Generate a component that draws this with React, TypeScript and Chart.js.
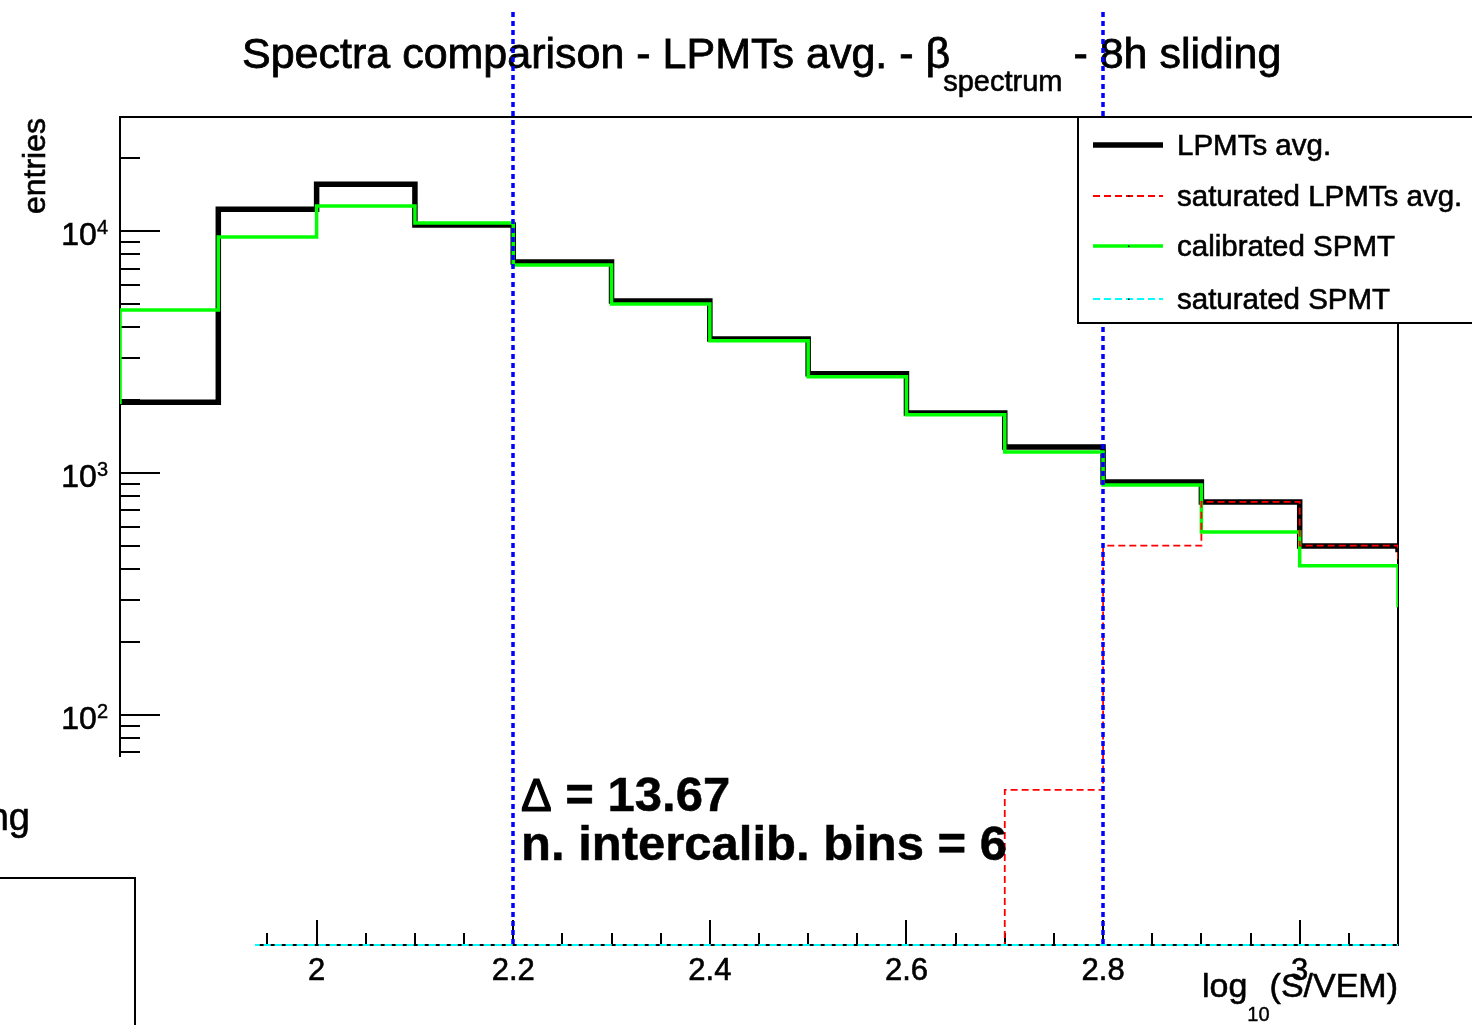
import React, { useEffect, useRef } from 'react';
import { Chart, registerables } from 'chart.js';

Chart.register(...registerables);

const W = 1472;
const H = 1025;
const FONT = '"Liberation Sans", Arial, Helvetica, sans-serif';

// Histogram bins (lower edges, width 0.1). First and last entries are the
// neighbouring bins just outside the drawn x-range.
const binLowEdges = [1.7, 1.8, 1.9, 2.0, 2.1, 2.2, 2.3, 2.4, 2.5, 2.6, 2.7, 2.8, 2.9, 3.0, 3.1];
const binWidth = 0.1;

const lpmtsAvg = [1960, 1960, 12300, 15600, 10600, 7440, 5140, 3580, 2570, 1770, 1280, 918, 759, 499, 470];
const saturatedLpmtsAvg = [0, 0, 0, 0, 0, 0, 0, 0, 0, 0, 49, 501, 760, 501, 436];
const calibratedSpmt = [1960, 4720, 9440, 12700, 10800, 7240, 4990, 3520, 2500, 1740, 1220, 891, 570, 414, 279];
const saturatedSpmt = [0, 0, 0, 0, 0, 0, 0, 0, 0, 0, 0, 0, 0, 0, 0];

const seriesLabels = ['LPMTs avg.', 'saturated LPMTs avg.', 'calibrated SPMT', 'saturated SPMT'];

const xRange = [1.8, 3.1];
const yRange = [11.2, 29600];
const xMajorTicks = [2, 2.2, 2.4, 2.6, 2.8, 3];
const xTickLabels = ['2', '2.2', '2.4', '2.6', '2.8', '3'];
const xMinorStep = 0.05;
const yMajorTicks = [100, 1000, 10000];
const yTickExponents = ['2', '3', '4'];
const yDecades = [10, 100, 1000, 10000];

const intercalibEdges = [2.2, 2.8];
const deltaValue = '13.67';
const nIntercalibBins = 6;

const titleMain = 'Spectra comparison - LPMTs avg. - \u03B2';
const titleSub = 'spectrum';
const titleTail = ' - 8h sliding';

function toPoints(vals: number[]) {
  const pts = vals.map((v, i) => ({ x: binLowEdges[i], y: Math.max(v, yRange[0]) }));
  const last = vals.length - 1;
  pts.push({ x: binLowEdges[last] + binWidth, y: Math.max(vals[last], yRange[0]) });
  return pts;
}

// filled text with a faint outline, imitating the heavier ROOT rendering
function txt(ctx: CanvasRenderingContext2D, s: string, x: number, y: number, sw = 0.6) {
  ctx.fillText(s, x, y);
  if (sw > 0) {
    ctx.save();
    ctx.strokeStyle = ctx.fillStyle as string;
    ctx.lineWidth = sw;
    ctx.setLineDash([]);
    ctx.strokeText(s, x, y);
    ctx.restore();
  }
}

const rootPlugin = {
  id: 'rootStyle',
  beforeDraw(chart: any) {
    const ctx = chart.ctx;
    ctx.save();
    ctx.fillStyle = '#fff';
    ctx.fillRect(0, 0, chart.width, chart.height);
    ctx.restore();
  },
  beforeDatasetsDraw(chart: any) {
    const ctx = chart.ctx as CanvasRenderingContext2D;
    const a = chart.chartArea;
    const xs = chart.scales.x;
    const ys = chart.scales.y;
    ctx.save();

    // title
    ctx.fillStyle = '#000';
    ctx.textBaseline = 'alphabetic';
    ctx.textAlign = 'left';
    ctx.font = `43px ${FONT}`;
    const w1 = ctx.measureText(titleMain).width;
    ctx.font = `29px ${FONT}`;
    const w2 = ctx.measureText(titleSub).width;
    const tx = 242;
    const subX = tx + w1 - 7;
    ctx.font = `43px ${FONT}`;
    txt(ctx, titleMain, tx, 68, 0.8);
    txt(ctx, titleTail, subX + w2 - 1, 68, 0.8);
    ctx.font = `29px ${FONT}`;
    txt(ctx, titleSub, subX, 91, 0.6);

    // frame
    ctx.strokeStyle = '#000';
    ctx.lineWidth = 2;
    ctx.strokeRect(a.left, a.top, a.right - a.left, a.bottom - a.top);

    // x ticks (pointing up, inside the frame)
    ctx.lineWidth = 2;
    const nMinor = Math.round((xRange[1] - xRange[0]) / xMinorStep);
    for (let k = 0; k <= nMinor; k++) {
      const v = xRange[0] + k * xMinorStep;
      const px = Math.round(xs.getPixelForValue(v));
      const major = xMajorTicks.some((m) => Math.abs(m - v) < 1e-6) || Math.abs(v - 1.8) < 1e-6;
      const len = major ? 25 : 12;
      ctx.beginPath();
      ctx.moveTo(px, a.bottom);
      ctx.lineTo(px, a.bottom - len);
      ctx.stroke();
    }
    // x labels
    ctx.font = `31px ${FONT}`;
    ctx.textAlign = 'center';
    xMajorTicks.forEach((v, i) => {
      txt(ctx, xTickLabels[i], xs.getPixelForValue(v), 980);
    });
    // x title
    ctx.textAlign = 'left';
    ctx.font = `34px ${FONT}`;
    const tA = 'log';
    const tC = '(S/VEM)';
    const wA = ctx.measureText(tA).width;
    const wC = ctx.measureText(tC).width;
    ctx.font = `20px ${FONT}`;
    const wB = ctx.measureText('10').width;
    const xt0 = a.right - (wA + wB + wC);
    ctx.font = `34px ${FONT}`;
    txt(ctx, tA, xt0, 997);
    txt(ctx, tC, xt0 + wA + wB, 997);
    ctx.font = `20px ${FONT}`;
    txt(ctx, '10', xt0 + wA, 1021, 0.4);

    // y ticks (pointing right, inside the frame)
    yDecades.forEach((d) => {
      for (let m = 1; m <= 9; m++) {
        const v = d * m;
        if (v < yRange[0] || v > yRange[1]) continue;
        const py = Math.round(ys.getPixelForValue(v));
        const len = m === 1 ? 40 : 20;
        ctx.beginPath();
        ctx.moveTo(a.left, py);
        ctx.lineTo(a.left + len, py);
        ctx.stroke();
      }
    });
    // y labels 10^n
    yMajorTicks.forEach((v, i) => {
      const py = ys.getPixelForValue(v);
      ctx.font = `20px ${FONT}`;
      const ws = ctx.measureText(yTickExponents[i]).width;
      ctx.textAlign = 'left';
      txt(ctx, yTickExponents[i], 108 - ws, py + 3, 0.4);
      ctx.font = `32px ${FONT}`;
      ctx.textAlign = 'right';
      txt(ctx, '10', 108 - ws, py + 14);
    });
    // y title
    ctx.save();
    ctx.translate(45, a.top + 1);
    ctx.rotate(-Math.PI / 2);
    ctx.textAlign = 'right';
    ctx.font = `32px ${FONT}`;
    txt(ctx, 'entries', 0, 0);
    ctx.restore();

    ctx.restore();
  },
  afterDatasetsDraw(chart: any) {
    const ctx = chart.ctx as CanvasRenderingContext2D;
    const a = chart.chartArea;
    const xs = chart.scales.x;
    ctx.save();

    // intercalibration range markers
    ctx.strokeStyle = '#0000ff';
    ctx.lineWidth = 3.5;
    ctx.setLineDash([5, 4]);
    intercalibEdges.forEach((v) => {
      const px = Math.round(xs.getPixelForValue(v));
      ctx.beginPath();
      ctx.moveTo(px, 12);
      ctx.lineTo(px, a.bottom);
      ctx.stroke();
    });
    ctx.setLineDash([]);

    // stats text
    ctx.fillStyle = '#000';
    ctx.textAlign = 'left';
    ctx.textBaseline = 'alphabetic';
    ctx.font = `46px ${FONT}`;
    const wDelta = ctx.measureText('\u0394').width;
    txt(ctx, '\u0394', 521, 811, 1.2);
    ctx.font = `bold 49px ${FONT}`;
    txt(ctx, ` = ${deltaValue}`, 521 + wDelta, 811, 0.5);
    txt(ctx, `n. intercalib. bins = ${nIntercalibBins}`, 521, 860, 0.5);

    // legend
    const lx = 1078;
    const ly = 117;
    ctx.fillStyle = '#fff';
    ctx.fillRect(lx, ly, W - lx + 10, 206);
    ctx.strokeStyle = '#000';
    ctx.lineWidth = 2;
    ctx.strokeRect(lx, ly, W - lx + 10, 206);
    const rows = [145, 196, 246, 299];
    const ds = chart.data.datasets;
    rows.forEach((ry, i) => {
      const d = ds[i];
      ctx.strokeStyle = d.borderColor;
      ctx.lineWidth = d.borderWidth;
      ctx.setLineDash(d.borderDash || []);
      ctx.beginPath();
      ctx.moveTo(1093, ry);
      ctx.lineTo(1163, ry);
      ctx.stroke();
      ctx.setLineDash([]);
      if (i > 0) {
        ctx.fillStyle = '#000';
        ctx.fillRect(1128, ry - 0.5, 1.5, 1.5);
      }
      ctx.fillStyle = '#000';
      ctx.font = `29.5px ${FONT}`;
      txt(ctx, seriesLabels[i], 1177, ry + 10);
    });

    // overlapping neighbour pad (bottom-left)
    ctx.fillStyle = '#fff';
    ctx.fillRect(0, 757, 255, H - 757);
    ctx.fillStyle = '#000';
    ctx.font = `38px ${FONT}`;
    ctx.textAlign = 'right';
    txt(ctx, 'sliding', 30, 830);
    ctx.strokeStyle = '#000';
    ctx.lineWidth = 2;
    ctx.beginPath();
    ctx.moveTo(0, 878);
    ctx.lineTo(135, 878);
    ctx.lineTo(135, H);
    ctx.stroke();

    ctx.restore();
  },
};

export default function App() {
  const ref = useRef<HTMLCanvasElement | null>(null);

  useEffect(() => {
    if (!ref.current) return;
    const common = { pointRadius: 0, fill: false, stepped: true, clip: { left: 0, top: 0, right: 0, bottom: 2 } };
    const chart = new Chart(ref.current, {
      type: 'line',
      data: {
        datasets: [
          { ...common, label: seriesLabels[0], data: toPoints(lpmtsAvg), borderColor: '#000000', borderWidth: 5.5, order: 4 },
          { ...common, label: seriesLabels[1], data: toPoints(saturatedLpmtsAvg), borderColor: '#ff0000', borderWidth: 1.8, borderDash: [7, 4], order: 2 },
          { ...common, label: seriesLabels[2], data: toPoints(calibratedSpmt), borderColor: '#00ff00', borderWidth: 3.5, order: 3 },
          { ...common, label: seriesLabels[3], data: toPoints(saturatedSpmt), borderColor: '#00ffff', borderWidth: 1.8, borderDash: [7, 4], order: 1 },
        ] as any,
      },
      options: {
        animation: false,
        responsive: false,
        devicePixelRatio: 1,
        events: [],
        layout: { padding: { left: 120, top: 117, right: W - 1398, bottom: H - 945 } },
        plugins: { legend: { display: false }, title: { display: false }, tooltip: { enabled: false } },
        scales: {
          x: { type: 'linear', min: xRange[0], max: xRange[1], display: false },
          y: { type: 'logarithmic', min: yRange[0], max: yRange[1], display: false },
        },
      } as any,
      plugins: [rootPlugin],
    });
    return () => chart.destroy();
  }, []);

  return (
    <div style={{ position: 'absolute', left: 0, top: 0, width: W, height: H, background: '#fff' }}>
      <canvas ref={ref} width={W} height={H} style={{ display: 'block' }} />
    </div>
  );
}
